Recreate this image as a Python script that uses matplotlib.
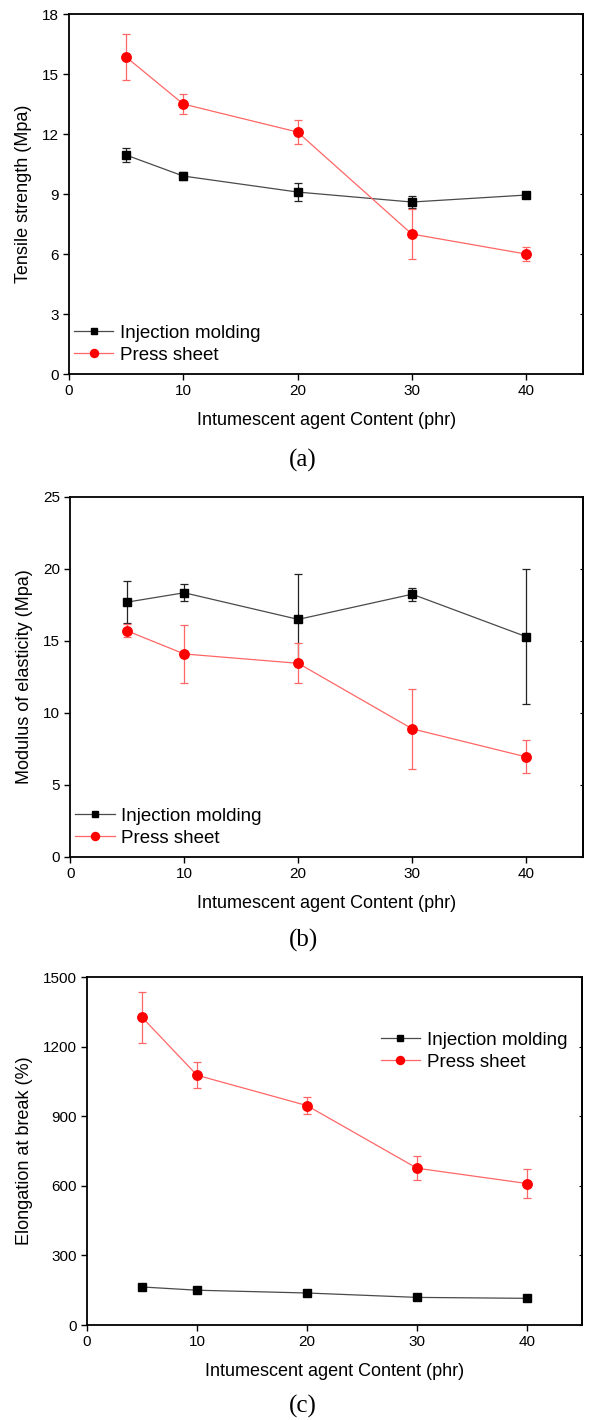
import matplotlib
matplotlib.use("Agg")
import matplotlib.pyplot as plt

plt.rcParams['font.family'] = ['Liberation Sans', 'DejaVu Sans']

content = [5, 10, 20, 30, 40]

# (a) tensile strength
ts_inj = [10.95, 9.9, 9.1, 8.6, 8.95]
ts_inj_err = [0.35, 0.2, 0.45, 0.3, 0.1]
ts_press = [15.85, 13.5, 12.1, 7.0, 6.0]
ts_press_err = [1.15, 0.5, 0.6, 1.25, 0.35]

# (b) modulus of elasticity
mod_inj = [17.7, 18.35, 16.5, 18.25, 15.3]
mod_inj_err = [1.45, 0.6, 3.15, 0.45, 4.7]
mod_press = [15.7, 14.1, 13.45, 8.9, 6.95]
mod_press_err = [0.45, 2.0, 1.4, 2.8, 1.15]

# (c) elongation at break
el_inj = [164, 150, 138, 119, 115]
el_inj_err = [8, 6, 6, 5, 5]
el_press = [1327, 1077, 946, 676, 610]
el_press_err = [109, 56, 37, 51, 61]

panels = [
    (ts_inj, ts_inj_err, ts_press, ts_press_err, 'Tensile strength (Mpa)',
     18, [0, 3, 6, 9, 12, 15, 18], 'lower left', '(a)'),
    (mod_inj, mod_inj_err, mod_press, mod_press_err, 'Modulus of elasticity (Mpa)',
     25, [0, 5, 10, 15, 20, 25], 'lower left', '(b)'),
    (el_inj, el_inj_err, el_press, el_press_err, 'Elongation at break (%)',
     1500, [0, 300, 600, 900, 1200, 1500], 'upper right', '(c)'),
]

# axes boxes [left, bottom, width, height] in figure fractions
boxes = [
    [0.115, 0.7366, 0.857, 0.2535],
    [0.117, 0.3965, 0.855, 0.2535],
    [0.145, 0.0669, 0.825, 0.2450],
]
caption_y = [0.676, 0.338, 0.0092]

black = '#222222'
line_black = '#4a4a4a'
red = '#ff6666'

fig = plt.figure(figsize=(6, 14.2), dpi=100)

for (inj, inj_e, prs, prs_e, ylab, ymax, yt, loc, cap), box, cy in zip(panels, boxes, caption_y):
    ax = fig.add_axes(box)
    ax.errorbar(content, inj, yerr=inj_e, fmt='none', ecolor=black, elinewidth=0.9,
                capsize=3, capthick=0.9)
    ax.errorbar(content, prs, yerr=prs_e, fmt='none', ecolor=red, elinewidth=0.9,
                capsize=3, capthick=0.9)
    ax.plot(content, inj, color=line_black, lw=0.9, marker='s', ms=5.5, mfc='black',
            mec='black', label='Injection molding')
    ax.plot(content, prs, color=red, lw=0.9, marker='o', ms=6.8, mfc='red',
            mec='red', label='Press sheet')
    ax.set_xlim(0, 45)
    ax.set_ylim(0, ymax)
    ax.set_xticks([0, 10, 20, 30, 40])
    ax.set_yticks(yt)
    ax.tick_params(axis='both', direction='out', length=4, width=1, labelsize=11)
    for s in ax.spines.values():
        s.set_linewidth(1.3)
    sec = ax.secondary_yaxis('right')
    sec.set_yticks(yt)
    sec.tick_params(direction='in', length=2.5, width=0.8, labelright=False)
    sec.spines['right'].set_linewidth(1.3)
    ax.set_xlabel('Intumescent agent Content (phr)', fontsize=13, labelpad=10)
    ax.set_ylabel(ylab, fontsize=13, labelpad=7)
    legend_kw = dict(frameon=False, fontsize=13.5, handlelength=2.1, handletextpad=0.35,
                     labelspacing=0.25, borderaxespad=0.0, markerscale=0.85)
    if loc == 'upper right':
        ax.legend(loc='upper right', bbox_to_anchor=(0.985, 0.865), **legend_kw)
    else:
        ax.legend(loc='lower left', bbox_to_anchor=(-0.005, 0.008), **legend_kw)
    fig.text(0.505, cy, cap, ha='center', va='center', fontsize=18,
             family=['Liberation Serif', 'DejaVu Serif'])

fig.savefig('out.png', dpi=100)
